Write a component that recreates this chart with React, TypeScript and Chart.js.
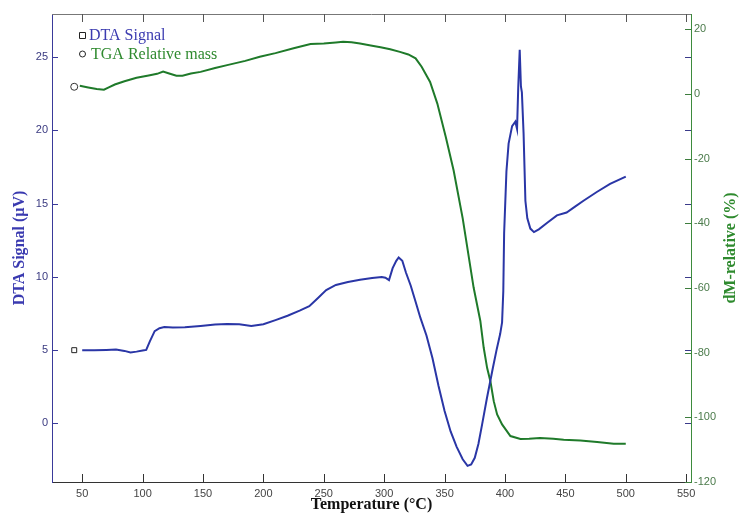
import React, { useEffect, useRef } from "react";
import { Chart, registerables } from "chart.js";

Chart.register(...registerables);

// ---- data ----
const dtaTemp = [50, 60, 70, 78, 85, 90, 95, 100, 103, 106, 110, 114, 118, 125, 135, 148, 160, 170, 180, 190, 200, 210, 220, 230, 238, 245, 252, 260, 270, 280, 290, 298, 301, 304, 307, 310, 312, 315, 318, 322, 326, 330, 335, 340, 345, 350, 355, 360, 365, 369, 372, 375, 378, 381, 385, 390, 393, 396, 397.6, 398.6, 399.3, 401.2, 403, 405.9, 408.6, 410, 411, 412.2, 413.2, 414, 415.4, 416.9, 418.5, 421, 424, 428, 435, 443, 451, 458, 465, 476, 487, 500];
const dtaSignal = [5.0, 5.0, 5.02, 5.04, 4.95, 4.84, 4.9, 4.98, 5.02, 5.6, 6.3, 6.5, 6.58, 6.55, 6.56, 6.65, 6.75, 6.78, 6.77, 6.65, 6.77, 7.05, 7.35, 7.7, 8.0, 8.55, 9.1, 9.45, 9.65, 9.8, 9.93, 10.0, 9.95, 9.78, 10.6, 11.1, 11.33, 11.1, 10.3, 9.4, 8.3, 7.2, 6.0, 4.45, 2.55, 0.85, -0.55, -1.6, -2.45, -2.9, -2.8, -2.35, -1.4, -0.1, 1.7, 3.8, 5.0, 6.1, 6.9, 9.0, 13.0, 17.2, 19.1, 20.3, 20.6, 20.1, 23.0, 25.5, 23.0, 22.6, 19.8, 15.2, 14.0, 13.3, 13.06, 13.25, 13.7, 14.2, 14.4, 14.8, 15.2, 15.8, 16.35, 16.85];

const tgaTemp = [48, 55, 62, 68, 72, 77, 85, 95, 105, 112, 117, 122, 128, 133, 140, 148, 160, 170, 185, 197, 210, 225, 239, 250, 260, 266, 273, 280, 290, 297, 305, 313, 320, 326, 331, 338, 344, 351, 357.5, 365, 374, 379.6, 382.4, 385.2, 388, 390.7, 393.5, 397.6, 404.5, 412.8, 420, 429, 440, 448.6, 462.4, 476.3, 490, 500];
const tgaMass = [2.5, 2.0, 1.5, 1.3, 2.0, 2.9, 3.9, 5.0, 5.7, 6.2, 6.9, 6.3, 5.6, 5.6, 6.3, 6.8, 8.0, 8.9, 10.2, 11.5, 12.6, 14.1, 15.4, 15.6, 15.9, 16.1, 16.0, 15.6, 14.9, 14.4, 13.8, 13.0, 12.2, 11.0, 8.4, 3.7, -3.0, -13.3, -23.7, -38.5, -59.8, -70.2, -78.5, -84.7, -89.0, -95.0, -99.1, -102.2, -105.8, -106.7, -106.6, -106.4, -106.6, -106.9, -107.2, -107.6, -108.2, -108.2];

const markerTemp = [43.4];
const dtaMarker = [5.0];
const tgaMarker = [2.2];

const xTicks = [50, 100, 150, 200, 250, 300, 350, 400, 450, 500, 550];
const leftTicks = [0, 5, 10, 15, 20, 25];
const rightTicks = [20, 0, -20, -40, -60, -80, -100, -120];

const DTA_COLOR = "#2a36a6";
const TGA_COLOR = "#1f7a2a";

const overlayPlugin = {
  id: "overlay",
  afterDraw(chart: any) {
    const { ctx, chartArea } = chart;
    const { left, right, top, bottom } = chartArea;
    const xs = chart.scales.x;
    const yl = chart.scales.y;
    const yr = chart.scales.y2;
    ctx.save();
    ctx.lineWidth = 1;
    // top border
    ctx.strokeStyle = "#777";
    ctx.beginPath();
    ctx.moveTo(left, top + 0.5);
    ctx.lineTo(right, top + 0.5);
    ctx.stroke();
    // x ticks bottom & top
    xTicks.forEach((v) => {
      const px = Math.round(xs.getPixelForValue(v)) + 0.5;
      ctx.strokeStyle = "#333";
      ctx.beginPath();
      ctx.moveTo(px, bottom);
      ctx.lineTo(px, bottom - 8);
      ctx.stroke();
      ctx.strokeStyle = "#555";
      ctx.beginPath();
      ctx.moveTo(px, top);
      ctx.lineTo(px, top + 8);
      ctx.stroke();
    });
    // left ticks
    leftTicks.forEach((v) => {
      const py = Math.round(yl.getPixelForValue(v)) + 0.5;
      ctx.strokeStyle = "#3a3a9a";
      ctx.beginPath();
      ctx.moveTo(left, py);
      ctx.lineTo(left + 6, py);
      ctx.stroke();
      // mirrored on right side
      ctx.strokeStyle = "#3a3a8a";
      ctx.beginPath();
      ctx.moveTo(right, py);
      ctx.lineTo(right - 6, py);
      ctx.stroke();
    });
    // right ticks
    rightTicks.forEach((v) => {
      const py = Math.round(yr.getPixelForValue(v)) + 0.5;
      ctx.strokeStyle = "#3d7d3d";
      ctx.beginPath();
      ctx.moveTo(right, py);
      ctx.lineTo(right - 6, py);
      ctx.stroke();
    });

    // legend
    ctx.strokeStyle = "#222";
    ctx.fillStyle = "#fff";
    ctx.lineWidth = 1;
    ctx.beginPath();
    ctx.rect(79.5, 32.5, 6, 6);
    ctx.fill();
    ctx.stroke();
    ctx.beginPath();
    ctx.arc(82.5, 54, 3, 0, Math.PI * 2);
    ctx.fill();
    ctx.stroke();
    ctx.font = '16px "Liberation Serif", "Times New Roman", serif';
    ctx.textAlign = "left";
    ctx.textBaseline = "alphabetic";
    ctx.fillStyle = "#3b3bb0";
    ctx.fillText("DTA Signal", 89, 40);
    ctx.fillStyle = "#2f8a2f";
    ctx.fillText("TGA Relative mass", 91, 59);

    // axis titles
    ctx.font = 'bold 16px "Liberation Serif", "Times New Roman", serif';
    ctx.textAlign = "center";
    ctx.textBaseline = "middle";
    ctx.fillStyle = "#111";
    ctx.fillText("Temperature (°C)", (left + right) / 2, 505);

    const midY = (top + bottom) / 2;
    ctx.save();
    ctx.translate(20, midY);
    ctx.rotate(-Math.PI / 2);
    ctx.fillStyle = "#3a3ab0";
    ctx.fillText("DTA Signal (µV)", 0, 0);
    ctx.restore();

    ctx.save();
    ctx.translate(731, midY);
    ctx.rotate(-Math.PI / 2);
    ctx.fillStyle = "#2e8a2e";
    ctx.fillText("dM-relative (%)", 0, 0);
    ctx.restore();

    ctx.restore();
  },
};

export default function App() {
  const canvasRef = useRef<HTMLCanvasElement | null>(null);

  useEffect(() => {
    document.body.style.margin = "0";
    const canvas = canvasRef.current;
    if (!canvas) return;
    const tickFont = { family: '"Liberation Sans", Arial, sans-serif', size: 11 };
    const chart = new Chart(canvas, {
      type: "line",
      data: {
        datasets: [
          {
            label: "DTA Signal",
            data: dtaTemp.map((t, i) => ({ x: t, y: dtaSignal[i] })),
            yAxisID: "y",
            borderColor: DTA_COLOR,
            borderWidth: 2,
            pointRadius: 0,
            tension: 0,
            fill: false,
          },
          {
            label: "TGA Relative mass",
            data: tgaTemp.map((t, i) => ({ x: t, y: tgaMass[i] })),
            yAxisID: "y2",
            borderColor: TGA_COLOR,
            borderWidth: 2,
            pointRadius: 0,
            tension: 0,
            fill: false,
          },
          {
            label: "dta marker",
            data: markerTemp.map((t, i) => ({ x: t, y: dtaMarker[i] })),
            yAxisID: "y",
            showLine: false,
            pointStyle: "rect",
            pointRadius: 3.5,
            borderColor: "#222",
            backgroundColor: "#fff",
            borderWidth: 1,
          },
          {
            label: "tga marker",
            data: markerTemp.map((t, i) => ({ x: t, y: tgaMarker[i] })),
            yAxisID: "y2",
            showLine: false,
            pointStyle: "circle",
            pointRadius: 3.5,
            borderColor: "#333",
            backgroundColor: "#fff",
            borderWidth: 1,
          },
        ],
      },
      options: {
        responsive: false,
        animation: false,
        devicePixelRatio: 1,
        layout: { padding: { top: 14, left: 0, right: 0, bottom: 0 } },
        plugins: { legend: { display: false }, tooltip: { enabled: false } },
        scales: {
          x: {
            type: "linear",
            position: "bottom",
            min: 25,
            max: 554,
            grid: { display: false, drawTicks: false },
            border: { display: true, color: "#333", width: 1 },
            ticks: { font: tickFont, color: "#444", padding: 5, maxRotation: 0, autoSkip: false },
            afterBuildTicks: (s: any) => {
              s.ticks = xTicks.map((v) => ({ value: v }));
            },
            afterFit: (s: any) => {
              s.height = 37;
            },
          },
          y: {
            type: "linear",
            position: "left",
            min: -4,
            max: 27.95,
            grid: { display: false, drawTicks: false },
            border: { display: true, color: "#3a3a9a", width: 1 },
            ticks: { font: tickFont, color: "#3a3a80", padding: 4, autoSkip: false },
            afterBuildTicks: (s: any) => {
              s.ticks = leftTicks.map((v) => ({ value: v }));
            },
            afterFit: (s: any) => {
              s.width = 52;
            },
          },
          y2: {
            type: "linear",
            position: "right",
            min: -120,
            max: 24.7,
            grid: { display: false, drawTicks: false },
            border: { display: true, color: "#3d8b3d", width: 1 },
            ticks: { font: tickFont, color: "#4b7b4b", padding: 3, autoSkip: false },
            afterBuildTicks: (s: any) => {
              s.ticks = rightTicks.map((v) => ({ value: v }));
            },
            afterFit: (s: any) => {
              s.width = 49;
            },
          },
        },
      },
      plugins: [overlayPlugin],
    });
    return () => chart.destroy();
  }, []);

  return (
    <div style={{ width: 740, height: 519 }}>
      <canvas ref={canvasRef} width={740} height={519} style={{ display: "block" }} />
    </div>
  );
}
